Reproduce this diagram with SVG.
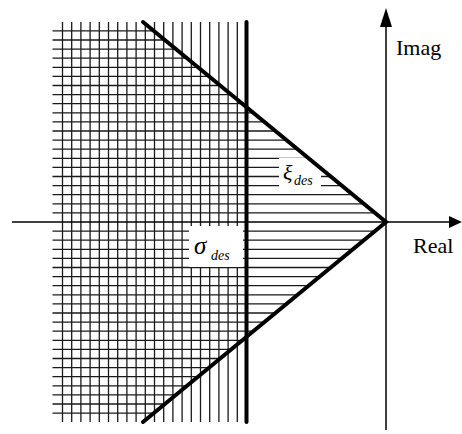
<svg xmlns="http://www.w3.org/2000/svg" width="462" height="434" viewBox="0 0 462 434">
<style>
.hatch{stroke:#1a1a1a;stroke-width:1.3;fill:none}
.bound{stroke:#000;stroke-width:4;stroke-linecap:round;fill:none}
.axis{stroke:#000;stroke-width:1.5;fill:none}
.lbl{font-family:"Liberation Serif","Times New Roman",serif;fill:#000}
.it{font-style:italic}
</style>
<defs>
<clipPath id="cone"><polygon points="40,22 143,22 386,222 143,422 40,422"/></clipPath>
</defs>
<rect width="462" height="434" fill="#fff"/>
<g id="grid">
<path class="hatch" d="M62.5 22V422M71.7 22V422M80.9 22V422M90.1 22V422M99.3 22V422M108.5 22V422M117.7 22V422M126.9 22V422M136.1 22V422M145.3 22V422M154.5 22V422M163.7 22V422M172.9 22V422M182.1 22V422M191.3 22V422M200.5 22V422M209.7 22V422M218.9 22V422M228.1 22V422M237.3 22V422"/>
<path class="hatch" clip-path="url(#cone)" d="M52.5 30.9H386M52.5 40H386M52.5 49.1H386M52.5 58.2H386M52.5 67.3H386M52.5 76.4H386M52.5 85.5H386M52.5 94.6H386M52.5 103.7H386M52.5 112.8H386M52.5 121.9H386M52.5 131H386M52.5 140.1H386M52.5 149.2H386M52.5 158.3H386M52.5 167.4H386M52.5 176.5H386M52.5 185.6H386M52.5 194.7H386M52.5 203.8H386M52.5 212.9H386M52.5 231.1H386M52.5 240.2H386M52.5 249.3H386M52.5 258.4H386M52.5 267.5H386M52.5 276.6H386M52.5 285.7H386M52.5 294.8H386M52.5 303.9H386M52.5 313H386M52.5 322.1H386M52.5 331.2H386M52.5 340.3H386M52.5 349.4H386M52.5 358.5H386M52.5 367.6H386M52.5 376.7H386M52.5 385.8H386M52.5 394.9H386M52.5 404H386M52.5 413.1H386"/>
</g>
<g id="axes">
<path class="axis" d="M12 222H452"/>
<polygon points="462,222 449,216 449,228" fill="#000"/>
<path class="axis" d="M386 430V26"/>
<polygon points="386,8 380,27 392,27" fill="#000"/>
<text class="lbl" x="396" y="55" font-size="22">Imag</text>
<text class="lbl" x="413" y="253" font-size="22">Real</text>
</g>
<g id="sigma-label">
<rect x="189" y="226" width="54" height="41" fill="#fff"/>
<text class="lbl it" x="194" y="254" font-size="25">σ</text>
<text class="lbl it" x="211" y="260" font-size="14">des</text>
</g>
<g id="xi-label">
<rect x="279" y="158" width="42" height="31" fill="#fff"/>
<text class="lbl it" x="283" y="180" font-size="22">ξ</text>
<text class="lbl it" x="294" y="185" font-size="14">des</text>
</g>
<g id="boundaries">
<path class="bound" d="M143 22L386 222L143 422"/>
<path class="bound" d="M246.5 22V422"/>
</g>
</svg>
